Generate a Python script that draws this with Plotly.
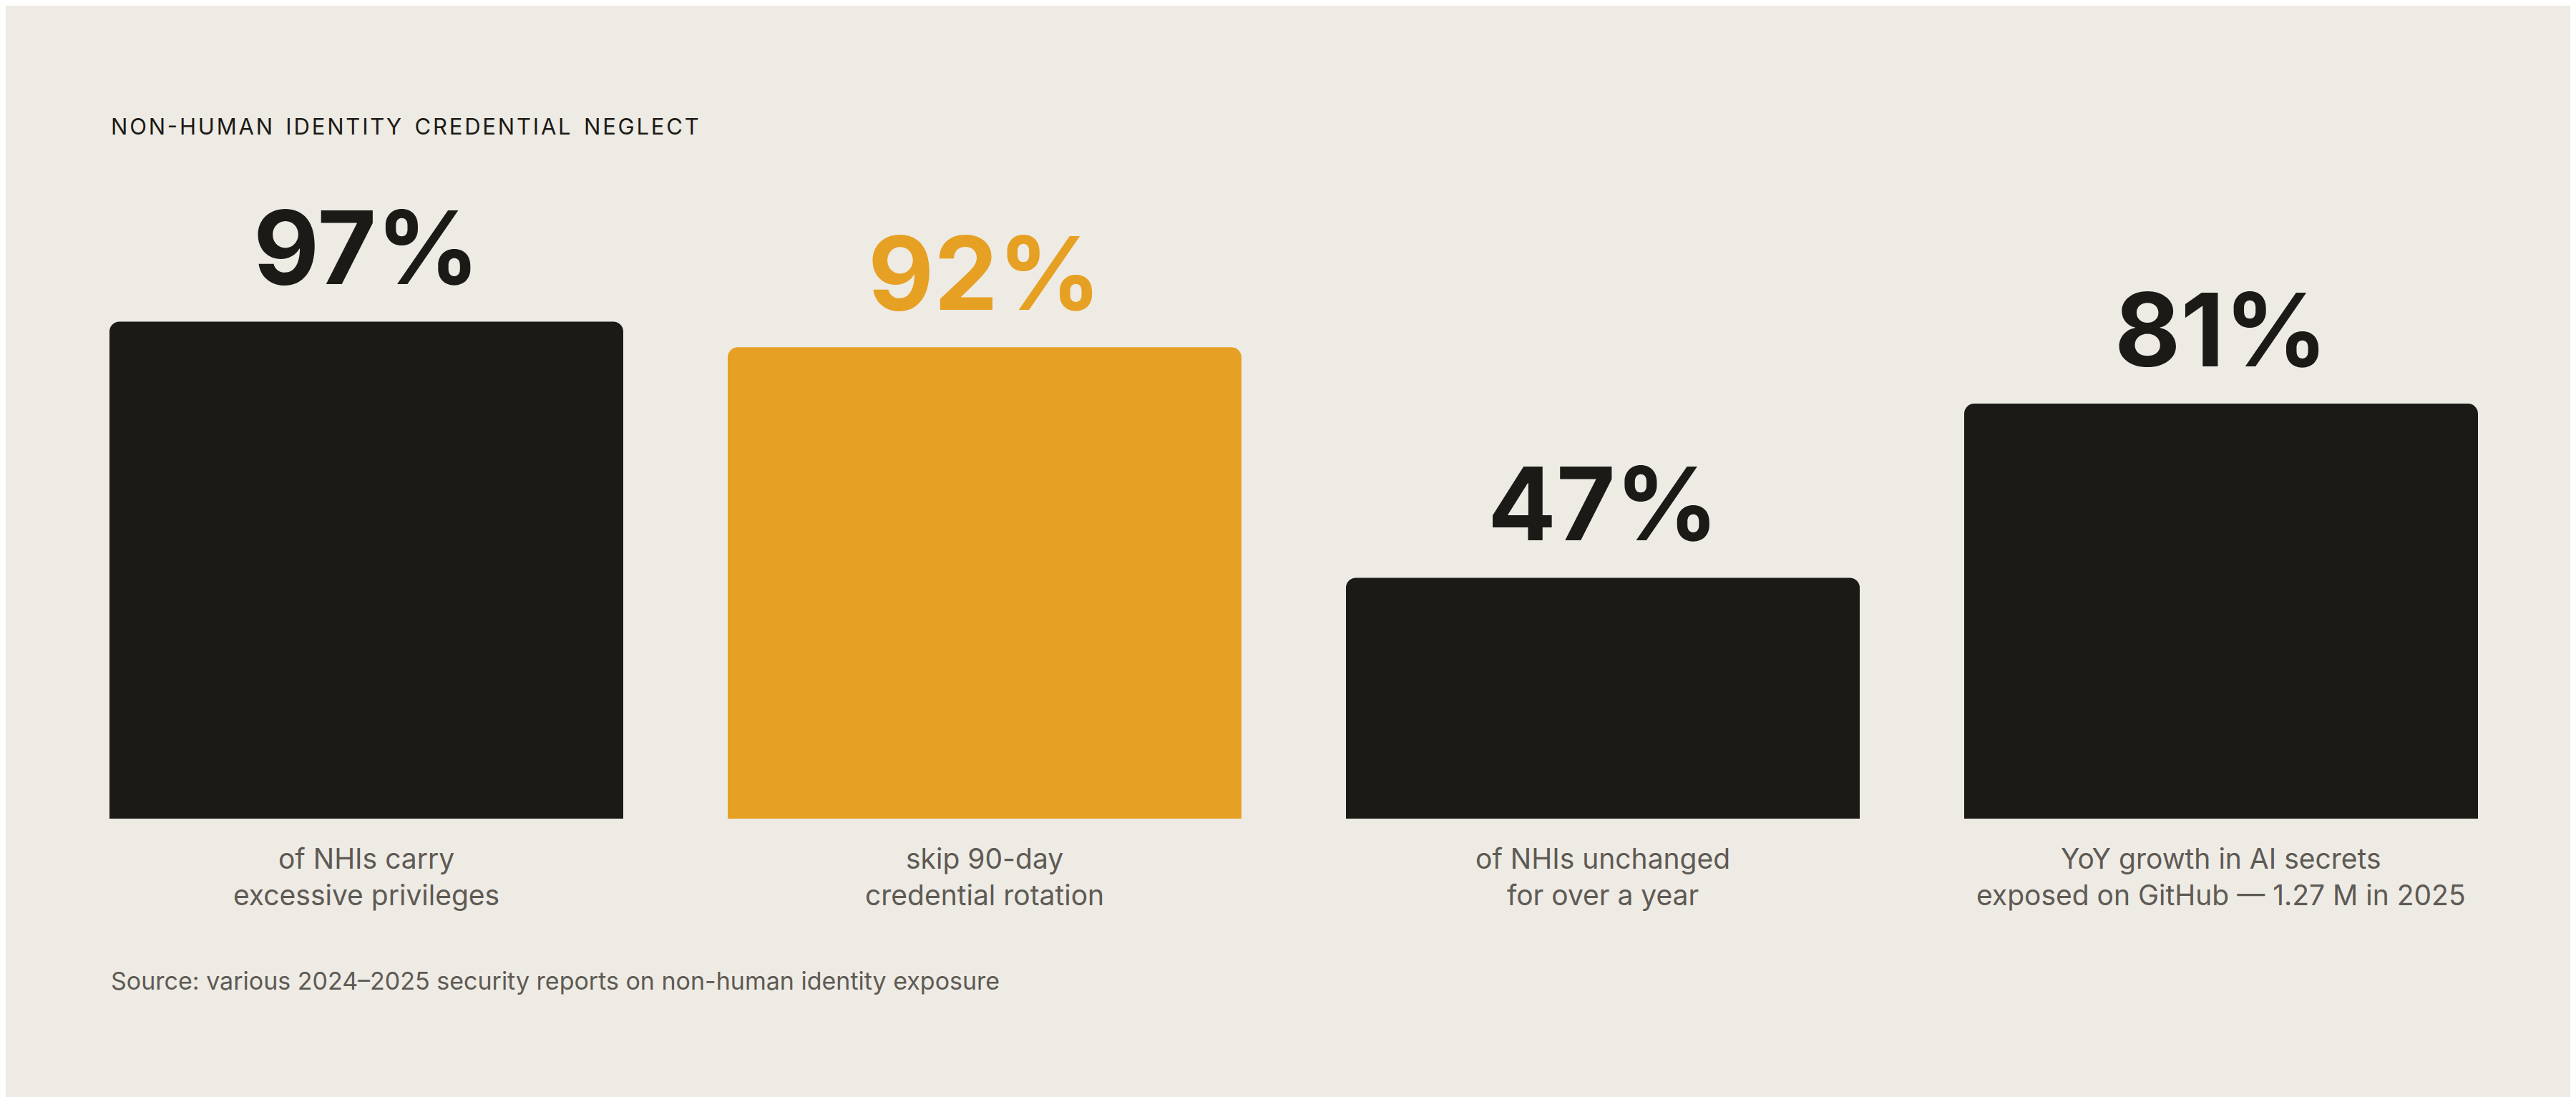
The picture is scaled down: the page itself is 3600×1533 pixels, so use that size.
import plotly.graph_objects as go

categories = ["of NHIs carry<br>excessive privileges", "skip 90-day<br>credential rotation",
              "of NHIs unchanged<br>for over a year", "YoY growth in AI secrets<br>exposed on GitHub — 1.27 M in 2025"]
values = [97, 92, 47, 81]
value_labels = ["97%", "92%", "47%", "81%"]
colors = ["#1C1A16", "#E6A023", "#1C1A16", "#1C1A16"]
label_colors = ["#1C1A16", "#E6A023", "#1C1A16", "#1C1A16"]

x = list(range(len(values)))
fig = go.Figure(go.Bar(x=x, y=values, marker=dict(color=colors, line=dict(width=0)), hoverinfo="skip"))

for i, (v, t, c) in enumerate(zip(values, value_labels, label_colors)):
    fig.add_annotation(x=i, y=v, text=f"<b>{t}</b>", showarrow=False, yanchor="bottom", yshift=16,
                       font=dict(size=142, color=c, family="Inter"))
    fig.add_annotation(x=i, y=0, text=categories[i], showarrow=False, yanchor="top", yshift=-30,
                       font=dict(size=39, color="#5E5A54", family="Inter"))

fig.add_annotation(xref="paper", yref="paper", x=0, y=1, xanchor="left", yanchor="middle",
                   text="N O N - H U M A N   I D E N T I T Y   C R E D E N T I A L   N E G L E C T".replace("   ", "\u2002 ").replace(" ", "\u200a") ,
                   showarrow=False, yshift=(420-168), font=dict(size=31, color="#1C1A16", family="Inter"))
fig.add_annotation(xref="paper", yref="paper", x=0, y=0, xanchor="left", yanchor="middle",
                   text="Source: various 2024–2025 security reports on non-human identity exposure",
                   showarrow=False, yshift=-(1362-1136), font=dict(size=34, color="#5E5A54", family="Inter"))

fig.update_layout(
    width=3600, height=1533, paper_bgcolor="#EEEBE5", plot_bgcolor="#EEEBE5",
    margin=dict(l=145, r=145, t=420, b=397), bargap=0.169, barcornerradius=14,
    showlegend=False,
    xaxis=dict(range=[-0.4155, 3.4155], visible=False, fixedrange=True),
    yaxis=dict(range=[0, 100], visible=False, fixedrange=True),
)
fig.write_html("out.html")
